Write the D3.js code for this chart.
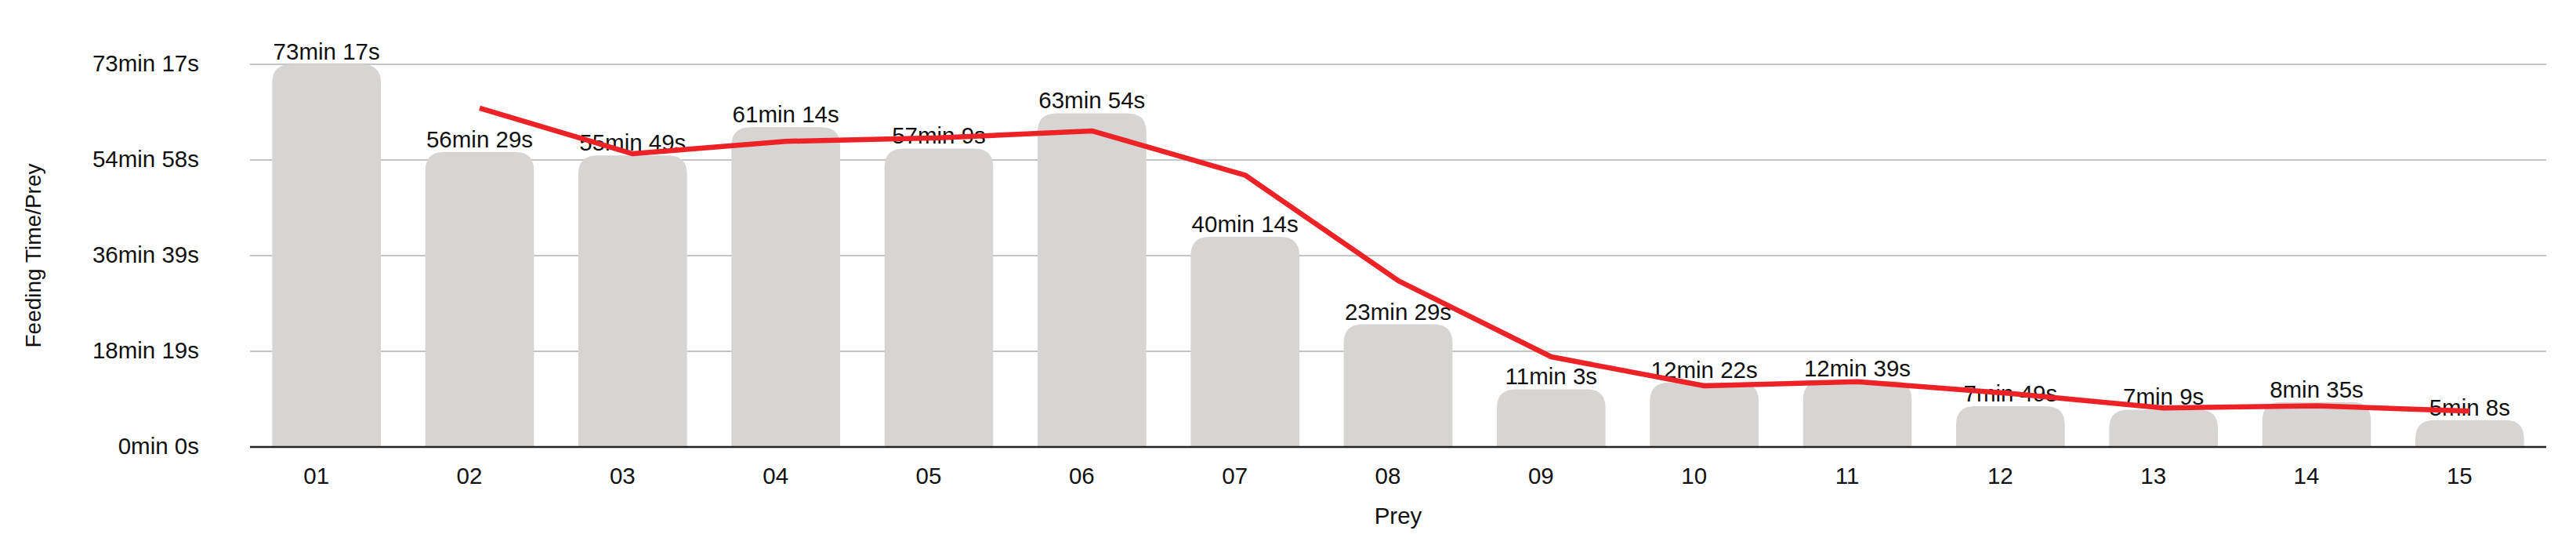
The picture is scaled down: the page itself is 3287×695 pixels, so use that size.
<!DOCTYPE html>
<html>
<head>
<meta charset="utf-8">
<script src="https://cdn.jsdelivr.net/npm/d3@7"></script>
<style>
  body { margin: 0; background: #fff; }
  text { font-family: "Liberation Sans", Arial, sans-serif; fill: #111; }
</style>
</head>
<body>
<div id="chart"></div>
<script>
// feeding time per prey, in seconds
const prey = ["01", "02", "03", "04", "05", "06", "07", "08", "09", "10", "11", "12", "13", "14", "15"];
const feedTime = [4397, 3389, 3349, 3674, 3429, 3834, 2414, 1409, 663, 742, 759, 469, 429, 515, 308];
// red trend line (none at the first prey)
const trend = [null, 3893, 3369, 3512, 3552, 3632, 3124, 1912, 1036, 703, 751, 614, 449, 472, 412];
const yTicks = [0, 1099.25, 2198.5, 3297.75, 4397];

const w = 3287;
const h = 695;
const margin = { top: 82, right: 38, bottom: 125, left: 319 };
const fontSize = 29.5;
const radius = 24;

const fmt = (s) => {
  s = Math.round(s);
  return `${Math.floor(s / 60)}min ${s % 60}s`;
};

const svg = d3.select("#chart").append("svg").attr("width", w).attr("height", h);

const x = d3
  .scaleBand()
  .domain(prey)
  .range([margin.left, w - margin.right])
  .paddingInner(0.29)
  .paddingOuter(0.145);
const y = d3
  .scaleLinear()
  .domain([0, d3.max(yTicks)])
  .range([h - margin.bottom, margin.top]);

// gridlines
svg
  .append("g")
  .selectAll("line")
  .data(yTicks.slice(1))
  .enter()
  .append("line")
  .attr("x1", margin.left)
  .attr("x2", w - margin.right)
  .attr("y1", (d) => y(d))
  .attr("y2", (d) => y(d))
  .attr("stroke", "#c4c4c4")
  .attr("stroke-width", 2);

// bars with rounded tops
const barPath = (d, i) => {
  const x0 = x(prey[i]);
  const x1 = x0 + x.bandwidth();
  const y0 = y(0);
  const yt = y(d);
  const r = Math.min(radius, (y0 - yt) / 1.2);
  return `M${x0},${y0}V${yt + r}Q${x0},${yt} ${x0 + r},${yt}H${x1 - r}Q${x1},${yt} ${x1},${yt + r}V${y0}Z`;
};
svg
  .append("g")
  .selectAll("path")
  .data(feedTime)
  .enter()
  .append("path")
  .attr("d", barPath)
  .attr("fill", "#d6d5d3");

// value labels
svg
  .append("g")
  .selectAll("text")
  .data(feedTime)
  .enter()
  .append("text")
  .attr("x", (d, i) => x(prey[i]) + x.bandwidth() / 2)
  .attr("y", (d) => y(d) - 6)
  .attr("text-anchor", "middle")
  .attr("font-size", fontSize)
  .text((d) => fmt(d));

// trend line
const line = d3
  .line()
  .defined((d) => d != null)
  .x((d, i) => x(prey[i]) + x.bandwidth() / 2)
  .y((d) => y(d));
svg
  .append("path")
  .datum(trend)
  .attr("d", line)
  .attr("fill", "none")
  .attr("stroke", "#ec2227")
  .attr("stroke-width", 6.5)
  .attr("stroke-linejoin", "round");

// baseline
svg
  .append("line")
  .attr("x1", margin.left)
  .attr("x2", w - margin.right)
  .attr("y1", y(0))
  .attr("y2", y(0))
  .attr("stroke", "#222")
  .attr("stroke-width", 2.5);

// y axis
const yAxis = svg
  .append("g")
  .attr("transform", `translate(${margin.left - 62},0)`)
  .call(d3.axisLeft(y).tickValues(yTicks).tickFormat(fmt).tickSize(0));
yAxis.select(".domain").remove();
yAxis.selectAll("text").attr("font-size", fontSize).attr("font-family", null).attr("dy", "0.3em");

// x axis
const xAxis = svg
  .append("g")
  .attr("transform", `translate(-13,${y(0)})`)
  .call(d3.axisBottom(x).tickSize(0).tickPadding(26));
xAxis.select(".domain").remove();
xAxis.selectAll("text").attr("font-size", fontSize).attr("font-family", null);

// axis titles
svg
  .append("text")
  .attr("x", (margin.left + w - margin.right) / 2)
  .attr("y", 668)
  .attr("text-anchor", "middle")
  .attr("font-size", fontSize)
  .text("Prey");
svg
  .append("text")
  .attr("transform", `translate(52,${(y(0) + y(d3.max(yTicks))) / 2}) rotate(-90)`)
  .attr("text-anchor", "middle")
  .attr("font-size", 28)
  .text("Feeding Time/Prey");
</script>
</body>
</html>
